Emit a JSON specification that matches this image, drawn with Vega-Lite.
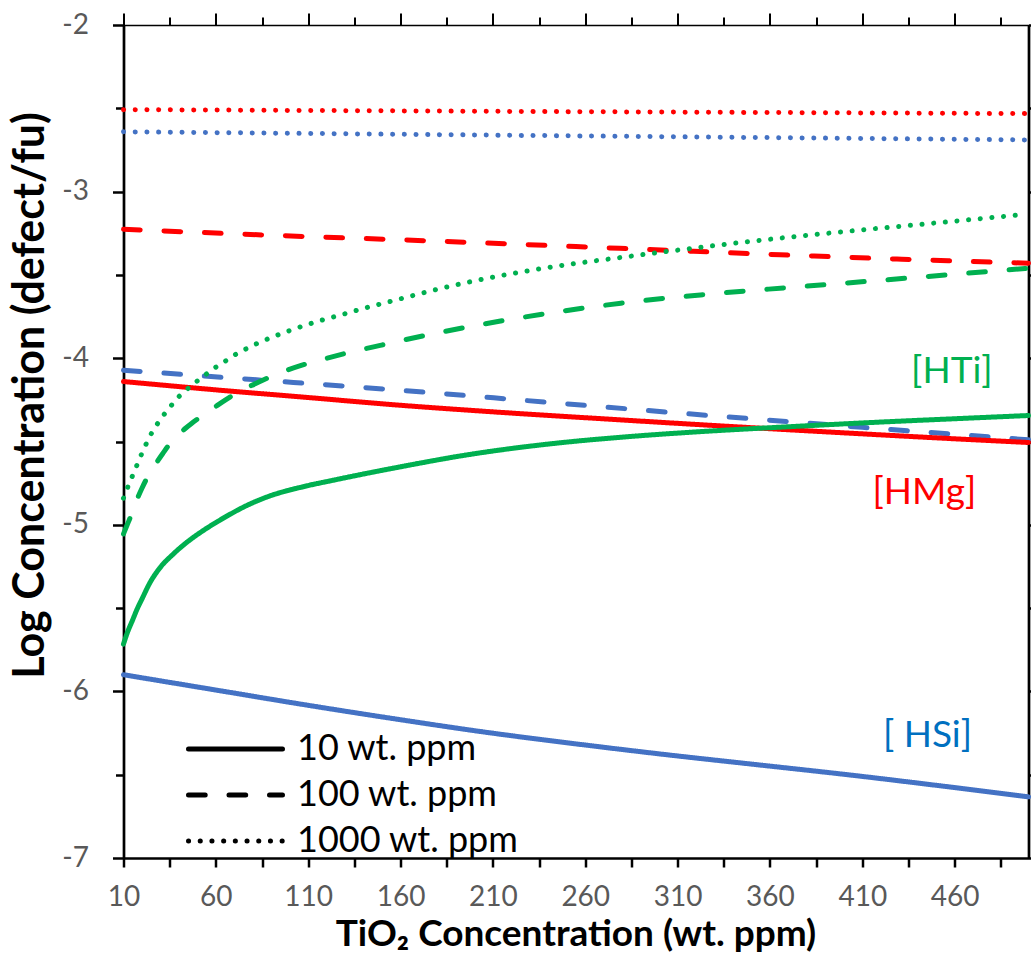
{
  "$schema": "https://vega.github.io/schema/vega-lite/v6.json",
  "width": 905,
  "height": 833,
  "autosize": {"type": "none"},
  "padding": {"left": 123.5, "top": 25, "right": 2.5, "bottom": 98},
  "background": "white",
  "config": {"view": {"stroke": null}, "font": "Lato"},
  "datasets": {
    "curves": [
      {"element": "HMg", "conc": "1000 wt. ppm", "x": 10, "y": -2.508},
      {"element": "HMg", "conc": "1000 wt. ppm", "x": 250, "y": -2.52},
      {"element": "HMg", "conc": "1000 wt. ppm", "x": 500, "y": -2.532},
      {"element": "HSi", "conc": "1000 wt. ppm", "x": 10, "y": -2.641},
      {"element": "HSi", "conc": "1000 wt. ppm", "x": 250, "y": -2.665},
      {"element": "HSi", "conc": "1000 wt. ppm", "x": 500, "y": -2.69},
      {"element": "HMg", "conc": "100 wt. ppm", "x": 10, "y": -3.226},
      {"element": "HMg", "conc": "100 wt. ppm", "x": 90, "y": -3.262},
      {"element": "HMg", "conc": "100 wt. ppm", "x": 176.6, "y": -3.296},
      {"element": "HMg", "conc": "100 wt. ppm", "x": 255, "y": -3.33},
      {"element": "HMg", "conc": "100 wt. ppm", "x": 333.4, "y": -3.365},
      {"element": "HMg", "conc": "100 wt. ppm", "x": 431.4, "y": -3.406},
      {"element": "HMg", "conc": "100 wt. ppm", "x": 500, "y": -3.43},
      {"element": "HSi", "conc": "100 wt. ppm", "x": 10, "y": -4.072},
      {"element": "HSi", "conc": "100 wt. ppm", "x": 80, "y": -4.128},
      {"element": "HSi", "conc": "100 wt. ppm", "x": 157, "y": -4.19},
      {"element": "HSi", "conc": "100 wt. ppm", "x": 240, "y": -4.265},
      {"element": "HSi", "conc": "100 wt. ppm", "x": 328.5, "y": -4.345},
      {"element": "HSi", "conc": "100 wt. ppm", "x": 410, "y": -4.415},
      {"element": "HSi", "conc": "100 wt. ppm", "x": 500, "y": -4.49},
      {"element": "HMg", "conc": "10 wt. ppm", "x": 10, "y": -4.14},
      {"element": "HMg", "conc": "10 wt. ppm", "x": 60, "y": -4.19},
      {"element": "HMg", "conc": "10 wt. ppm", "x": 110, "y": -4.236},
      {"element": "HMg", "conc": "10 wt. ppm", "x": 157, "y": -4.28},
      {"element": "HMg", "conc": "10 wt. ppm", "x": 210, "y": -4.322},
      {"element": "HMg", "conc": "10 wt. ppm", "x": 270, "y": -4.364},
      {"element": "HMg", "conc": "10 wt. ppm", "x": 323.6, "y": -4.4},
      {"element": "HMg", "conc": "10 wt. ppm", "x": 400, "y": -4.448},
      {"element": "HMg", "conc": "10 wt. ppm", "x": 450, "y": -4.478},
      {"element": "HMg", "conc": "10 wt. ppm", "x": 500, "y": -4.506},
      {"element": "HSi", "conc": "10 wt. ppm", "x": 10, "y": -5.9},
      {"element": "HSi", "conc": "10 wt. ppm", "x": 59, "y": -5.99},
      {"element": "HSi", "conc": "10 wt. ppm", "x": 108, "y": -6.08},
      {"element": "HSi", "conc": "10 wt. ppm", "x": 157, "y": -6.165},
      {"element": "HSi", "conc": "10 wt. ppm", "x": 206, "y": -6.245},
      {"element": "HSi", "conc": "10 wt. ppm", "x": 255, "y": -6.315},
      {"element": "HSi", "conc": "10 wt. ppm", "x": 304, "y": -6.38},
      {"element": "HSi", "conc": "10 wt. ppm", "x": 353, "y": -6.44},
      {"element": "HSi", "conc": "10 wt. ppm", "x": 402, "y": -6.5},
      {"element": "HSi", "conc": "10 wt. ppm", "x": 451, "y": -6.565},
      {"element": "HSi", "conc": "10 wt. ppm", "x": 500, "y": -6.633},
      {"element": "HTi", "conc": "10 wt. ppm", "x": 10, "y": -5.716},
      {"element": "HTi", "conc": "10 wt. ppm", "x": 12, "y": -5.65},
      {"element": "HTi", "conc": "10 wt. ppm", "x": 15, "y": -5.57},
      {"element": "HTi", "conc": "10 wt. ppm", "x": 17.4, "y": -5.505},
      {"element": "HTi", "conc": "10 wt. ppm", "x": 19.8, "y": -5.45},
      {"element": "HTi", "conc": "10 wt. ppm", "x": 24.2, "y": -5.35},
      {"element": "HTi", "conc": "10 wt. ppm", "x": 29.6, "y": -5.26},
      {"element": "HTi", "conc": "10 wt. ppm", "x": 37, "y": -5.175},
      {"element": "HTi", "conc": "10 wt. ppm", "x": 44.3, "y": -5.105},
      {"element": "HTi", "conc": "10 wt. ppm", "x": 53.1, "y": -5.035},
      {"element": "HTi", "conc": "10 wt. ppm", "x": 61, "y": -4.98},
      {"element": "HTi", "conc": "10 wt. ppm", "x": 68, "y": -4.935},
      {"element": "HTi", "conc": "10 wt. ppm", "x": 76.6, "y": -4.885},
      {"element": "HTi", "conc": "10 wt. ppm", "x": 88.4, "y": -4.83},
      {"element": "HTi", "conc": "10 wt. ppm", "x": 106, "y": -4.775},
      {"element": "HTi", "conc": "10 wt. ppm", "x": 124.7, "y": -4.73},
      {"element": "HTi", "conc": "10 wt. ppm", "x": 142.3, "y": -4.69},
      {"element": "HTi", "conc": "10 wt. ppm", "x": 160.9, "y": -4.65},
      {"element": "HTi", "conc": "10 wt. ppm", "x": 196.2, "y": -4.58},
      {"element": "HTi", "conc": "10 wt. ppm", "x": 240.3, "y": -4.515},
      {"element": "HTi", "conc": "10 wt. ppm", "x": 284.4, "y": -4.47},
      {"element": "HTi", "conc": "10 wt. ppm", "x": 326.5, "y": -4.438},
      {"element": "HTi", "conc": "10 wt. ppm", "x": 372.6, "y": -4.41},
      {"element": "HTi", "conc": "10 wt. ppm", "x": 416.7, "y": -4.385},
      {"element": "HTi", "conc": "10 wt. ppm", "x": 460.8, "y": -4.363},
      {"element": "HTi", "conc": "10 wt. ppm", "x": 500, "y": -4.344},
      {"element": "HTi", "conc": "100 wt. ppm", "x": 10, "y": -5.055},
      {"element": "HTi", "conc": "100 wt. ppm", "x": 12, "y": -5.0},
      {"element": "HTi", "conc": "100 wt. ppm", "x": 13.9, "y": -4.95},
      {"element": "HTi", "conc": "100 wt. ppm", "x": 15.9, "y": -4.89},
      {"element": "HTi", "conc": "100 wt. ppm", "x": 17.8, "y": -4.835},
      {"element": "HTi", "conc": "100 wt. ppm", "x": 19.8, "y": -4.785},
      {"element": "HTi", "conc": "100 wt. ppm", "x": 22.7, "y": -4.72},
      {"element": "HTi", "conc": "100 wt. ppm", "x": 25.7, "y": -4.665},
      {"element": "HTi", "conc": "100 wt. ppm", "x": 28.6, "y": -4.615},
      {"element": "HTi", "conc": "100 wt. ppm", "x": 31.4, "y": -4.57},
      {"element": "HTi", "conc": "100 wt. ppm", "x": 34.3, "y": -4.525},
      {"element": "HTi", "conc": "100 wt. ppm", "x": 39.2, "y": -4.465},
      {"element": "HTi", "conc": "100 wt. ppm", "x": 43.1, "y": -4.425},
      {"element": "HTi", "conc": "100 wt. ppm", "x": 47, "y": -4.39},
      {"element": "HTi", "conc": "100 wt. ppm", "x": 51, "y": -4.358},
      {"element": "HTi", "conc": "100 wt. ppm", "x": 55.9, "y": -4.32},
      {"element": "HTi", "conc": "100 wt. ppm", "x": 60.8, "y": -4.283},
      {"element": "HTi", "conc": "100 wt. ppm", "x": 65.7, "y": -4.247},
      {"element": "HTi", "conc": "100 wt. ppm", "x": 69.6, "y": -4.22},
      {"element": "HTi", "conc": "100 wt. ppm", "x": 76.4, "y": -4.18},
      {"element": "HTi", "conc": "100 wt. ppm", "x": 83.3, "y": -4.143},
      {"element": "HTi", "conc": "100 wt. ppm", "x": 93.1, "y": -4.095},
      {"element": "HTi", "conc": "100 wt. ppm", "x": 105.8, "y": -4.045},
      {"element": "HTi", "conc": "100 wt. ppm", "x": 118.6, "y": -4.005},
      {"element": "HTi", "conc": "100 wt. ppm", "x": 131.3, "y": -3.968},
      {"element": "HTi", "conc": "100 wt. ppm", "x": 149, "y": -3.923},
      {"element": "HTi", "conc": "100 wt. ppm", "x": 181.3, "y": -3.845},
      {"element": "HTi", "conc": "100 wt. ppm", "x": 212.7, "y": -3.78},
      {"element": "HTi", "conc": "100 wt. ppm", "x": 245, "y": -3.722},
      {"element": "HTi", "conc": "100 wt. ppm", "x": 279.3, "y": -3.67},
      {"element": "HTi", "conc": "100 wt. ppm", "x": 322.4, "y": -3.62},
      {"element": "HTi", "conc": "100 wt. ppm", "x": 367.5, "y": -3.578},
      {"element": "HTi", "conc": "100 wt. ppm", "x": 413.6, "y": -3.538},
      {"element": "HTi", "conc": "100 wt. ppm", "x": 455.7, "y": -3.5},
      {"element": "HTi", "conc": "100 wt. ppm", "x": 500, "y": -3.46},
      {"element": "HTi", "conc": "1000 wt. ppm", "x": 10, "y": -4.84},
      {"element": "HTi", "conc": "1000 wt. ppm", "x": 12.45, "y": -4.77},
      {"element": "HTi", "conc": "1000 wt. ppm", "x": 14.9, "y": -4.705},
      {"element": "HTi", "conc": "1000 wt. ppm", "x": 17.35, "y": -4.64},
      {"element": "HTi", "conc": "1000 wt. ppm", "x": 19.8, "y": -4.575},
      {"element": "HTi", "conc": "1000 wt. ppm", "x": 22.25, "y": -4.515},
      {"element": "HTi", "conc": "1000 wt. ppm", "x": 25.2, "y": -4.45},
      {"element": "HTi", "conc": "1000 wt. ppm", "x": 28.6, "y": -4.39},
      {"element": "HTi", "conc": "1000 wt. ppm", "x": 32.5, "y": -4.33},
      {"element": "HTi", "conc": "1000 wt. ppm", "x": 36.3, "y": -4.278},
      {"element": "HTi", "conc": "1000 wt. ppm", "x": 40.2, "y": -4.228},
      {"element": "HTi", "conc": "1000 wt. ppm", "x": 45.1, "y": -4.18},
      {"element": "HTi", "conc": "1000 wt. ppm", "x": 50, "y": -4.136},
      {"element": "HTi", "conc": "1000 wt. ppm", "x": 54.9, "y": -4.095},
      {"element": "HTi", "conc": "1000 wt. ppm", "x": 59.8, "y": -4.055},
      {"element": "HTi", "conc": "1000 wt. ppm", "x": 65.7, "y": -4.013},
      {"element": "HTi", "conc": "1000 wt. ppm", "x": 70.6, "y": -3.978},
      {"element": "HTi", "conc": "1000 wt. ppm", "x": 76.4, "y": -3.944},
      {"element": "HTi", "conc": "1000 wt. ppm", "x": 82.3, "y": -3.912},
      {"element": "HTi", "conc": "1000 wt. ppm", "x": 88.2, "y": -3.884},
      {"element": "HTi", "conc": "1000 wt. ppm", "x": 94.1, "y": -3.858},
      {"element": "HTi", "conc": "1000 wt. ppm", "x": 100, "y": -3.834},
      {"element": "HTi", "conc": "1000 wt. ppm", "x": 105.8, "y": -3.812},
      {"element": "HTi", "conc": "1000 wt. ppm", "x": 111.7, "y": -3.791},
      {"element": "HTi", "conc": "1000 wt. ppm", "x": 117.6, "y": -3.771},
      {"element": "HTi", "conc": "1000 wt. ppm", "x": 124.5, "y": -3.75},
      {"element": "HTi", "conc": "1000 wt. ppm", "x": 130.3, "y": -3.732},
      {"element": "HTi", "conc": "1000 wt. ppm", "x": 136.2, "y": -3.713},
      {"element": "HTi", "conc": "1000 wt. ppm", "x": 142.1, "y": -3.695},
      {"element": "HTi", "conc": "1000 wt. ppm", "x": 148, "y": -3.678},
      {"element": "HTi", "conc": "1000 wt. ppm", "x": 194, "y": -3.55},
      {"element": "HTi", "conc": "1000 wt. ppm", "x": 240.3, "y": -3.455},
      {"element": "HTi", "conc": "1000 wt. ppm", "x": 284.4, "y": -3.388},
      {"element": "HTi", "conc": "1000 wt. ppm", "x": 322.6, "y": -3.334},
      {"element": "HTi", "conc": "1000 wt. ppm", "x": 364.8, "y": -3.28},
      {"element": "HTi", "conc": "1000 wt. ppm", "x": 407.9, "y": -3.232},
      {"element": "HTi", "conc": "1000 wt. ppm", "x": 450.8, "y": -3.187},
      {"element": "HTi", "conc": "1000 wt. ppm", "x": 492.9, "y": -3.142}
    ],
    "labels": [
      {"element": "HTi", "label": "[HTi]", "x": 458.5, "y": -4.085},
      {"element": "HMg", "label": "[HMg]", "x": 443.6, "y": -4.81},
      {"element": "HSi", "label": "[ HSi]", "x": 445.3, "y": -6.267}
    ]
  },
  "layer": [
    {
      "data": {"name": "curves"},
      "mark": {"type": "line", "strokeWidth": 5, "strokeCap": "round", "strokeJoin": "round", "interpolate": "monotone"},
      "encoding": {
        "x": {
          "field": "x", "type": "quantitative",
          "scale": {"domain": [10, 500], "nice": false, "zero": false},
          "axis": {
            "orient": "bottom",
            "values": [10, 35, 60, 85, 110, 135, 160, 185, 210, 235, 260, 285, 310, 335, 360, 385, 410, 435, 460, 485],
            "labelExpr": "datum.value % 50 == 10 ? datum.label : ''",
            "grid": false,
            "domainColor": "black", "domainWidth": 2.5,
            "tickColor": "black", "tickWidth": 2.5, "tickSize": 9,
            "labelFont": "Lato", "labelFontSize": 28, "labelColor": "#595959",
            "labelBaseline": "alphabetic", "labelPadding": 38,
            "labelFlush": false, "labelOverlap": false,
            "title": "TiO₂ Concentration (wt. ppm)",
            "titleFont": "Lato", "titleFontSize": 37, "titleFontWeight": "bold", "titleColor": "black",
            "titleBaseline": "alphabetic", "titleY": 87, "titleX": 452
          }
        },
        "y": {
          "field": "y", "type": "quantitative",
          "scale": {"domain": [-7, -2], "nice": false, "zero": false},
          "axis": {
            "orient": "left",
            "values": [-7, -6.5, -6, -5.5, -5, -4.5, -4, -3.5, -3, -2.5, -2],
            "labelExpr": "datum.value % 1 == 0 ? '' + datum.value : ''",
            "grid": false,
            "domainColor": "black", "domainWidth": 2.7,
            "tickColor": "black", "tickWidth": 2.5,
            "tickSize": {"condition": {"test": "datum.value % 1 == 0", "value": 11}, "value": 8},
            "labelFont": "Lato", "labelFontSize": 28, "labelColor": "#595959",
            "labelPadding": 24, "labelFlush": false, "labelOverlap": false,
            "title": "Log Concentration (defect/fu)",
            "titleFont": "Lato", "titleFontSize": 43, "titleFontWeight": "bold", "titleColor": "black",
            "titleAngle": 270, "titleAlign": "center", "titleBaseline": "middle",
            "titleX": -93.5, "titleY": 370
          }
        },
        "color": {
          "field": "element", "type": "nominal",
          "scale": {"domain": ["HMg", "HSi", "HTi"], "range": ["#FF0000", "#4472C4", "#00B050"]},
          "legend": null
        },
        "strokeDash": {
          "field": "conc", "type": "nominal",
          "scale": {"domain": ["10 wt. ppm", "100 wt. ppm", "1000 wt. ppm"], "range": [[1, 0], [16.7, 23.8], [0.1, 11.6]]},
          "legend": {
            "title": null, "orient": "none", "legendX": 62.5, "legendY": 702,
            "symbolType": "stroke", "symbolSize": 8836, "symbolStrokeWidth": 5,
            "symbolStrokeColor": "black",
            "labelFont": "Lato", "labelFontSize": 36, "labelColor": "black",
            "labelOffset": 12, "labelLimit": 0, "rowPadding": 2, "clipHeight": 44,
            "encoding": {"symbols": {"strokeCap": {"value": "round"}}}
          }
        }
      }
    },
    {
      "data": {"name": "labels"},
      "mark": {"type": "text", "fontSize": 37, "font": "Lato", "align": "center", "baseline": "middle"},
      "encoding": {
        "x": {
          "field": "x", "type": "quantitative",
          "axis": {
            "orient": "top",
            "values": [10, 35, 60, 85, 110, 135, 160, 185, 210, 235, 260, 285, 310, 335, 360, 385, 410, 435, 460, 485],
            "labels": false, "grid": false, "title": null,
            "domainColor": "black", "domainWidth": 1.6,
            "tickColor": "black", "tickWidth": 2,
            "tickSize": {"condition": {"test": "datum.value % 50 == 10", "value": 12}, "value": 8}
          }
        },
        "y": {
          "field": "y", "type": "quantitative",
          "axis": {
            "orient": "right",
            "values": [-7, -6.5, -6, -5.5, -5, -4.5, -4, -3.5, -3, -2.5, -2],
            "labels": false, "grid": false, "title": null,
            "domainColor": "black", "domainWidth": 2.7,
            "tickColor": "black", "tickWidth": 2.5, "tickSize": 6
          }
        },
        "text": {"field": "label"},
        "color": {
          "field": "element", "type": "nominal",
          "scale": {"domain": ["HMg", "HSi", "HTi"], "range": ["#FF0000", "#0070C0", "#00B050"]},
          "legend": null
        }
      }
    }
  ],
  "resolve": {
    "axis": {"x": "independent", "y": "independent"},
    "scale": {"color": "independent"}
  }
}
